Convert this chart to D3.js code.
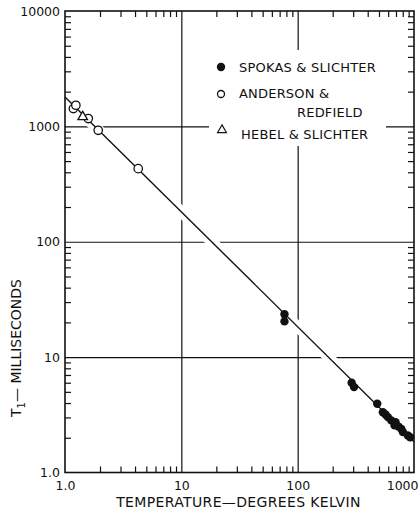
<!DOCTYPE html>
<html>
<head>
<meta charset="utf-8">
<script src="https://cdn.jsdelivr.net/npm/d3@7"></script>
<style>
  body { margin: 0; background: #fff; }
  svg text { font-family: "DejaVu Sans", sans-serif; fill: #111; }
</style>
</head>
<body>
<div id="chart"></div>
<script>
// temperature (K) and T1 (ms)
const spokasT  = [77, 77, 291, 305, 483, 540, 569, 596, 637, 680, 694, 736, 777, 802, 885, 927];
const spokasT1 = [23.5, 20.4, 6.0, 5.5, 3.94, 3.33, 3.18, 3.02, 2.83, 2.56, 2.73, 2.5, 2.39, 2.24, 2.09, 2.02];
const andersonT  = [1.18, 1.24, 1.585, 1.93, 4.26];
const andersonT1 = [1427, 1524, 1169, 925, 430];
const hebelT  = [1.42];
const hebelT1 = [1207];
const fitT  = [1, 1000];
const fitT1 = [1800, 1.85];

const xTicks = [1, 10, 100, 1000];
const xTickLabels = ["1.0", "10", "100", "1000"];
const yTicks = [1, 10, 100, 1000, 10000];
const yTickLabels = ["1.0", "10", "100", "1000", "10000"];
const legendLabels = [["SPOKAS & SLICHTER"], ["ANDERSON &", "REDFIELD"], ["HEBEL & SLICHTER"]];

const W = 419, H = 513;
const margin = { top: 11, right: 5, bottom: 40.5, left: 65 };
const width = W - margin.left - margin.right;
const height = H - margin.top - margin.bottom;

const svg = d3.select("#chart").append("svg")
    .attr("width", W).attr("height", H);
const g = svg.append("g")
    .attr("transform", `translate(${margin.left},${margin.top})`);

const x = d3.scaleLog().domain([1, 1000]).range([0, width]);
const y = d3.scaleLog().domain([1, 10000]).range([height, 0]);

// minor ticks 2..9 in each decade
const minorOf = ext => {
    const out = [];
    for (let d = ext[0]; d < ext[1]; d *= 10)
        for (let k = 2; k <= 9; k++) out.push(d * k);
    return out;
};
const xMinor = minorOf(x.domain());
const yMinor = minorOf(y.domain());

// grid at decades
g.append("g").attr("class", "gridX")
    .attr("transform", `translate(0,${height})`)
    .call(d3.axisBottom(x).tickValues(xTicks.slice(1, -1)).tickSize(-height).tickFormat(""))
    .call(s => s.select(".domain").remove());
g.append("g").attr("class", "gridY")
    .call(d3.axisLeft(y).tickValues(yTicks.slice(1, -1)).tickSize(-width).tickFormat(""))
    .call(s => s.select(".domain").remove());
g.selectAll(".gridX line, .gridY line").attr("stroke", "#333").attr("stroke-width", 1);

// minor inside ticks on all four sides
const tk = 6;
g.append("g").attr("transform", `translate(0,${height})`)
    .call(d3.axisBottom(x).tickValues(xMinor).tickSize(-tk).tickFormat(""));
g.append("g")
    .call(d3.axisTop(x).tickValues(xMinor).tickSize(-tk).tickFormat(""));
g.append("g")
    .call(d3.axisLeft(y).tickValues(yMinor).tickSize(-tk).tickFormat(""));
g.append("g").attr("transform", `translate(${width},0)`)
    .call(d3.axisRight(y).tickValues(yMinor).tickSize(-tk).tickFormat(""));
g.selectAll(".domain").remove();
g.selectAll(".tick line").attr("stroke", "#111").attr("stroke-width", 1.2);

// tick labels
const xLab = g.append("g").attr("transform", `translate(0,${height})`)
    .call(d3.axisBottom(x).tickValues(xTicks).tickSize(0).tickPadding(9)
        .tickFormat((d, i) => xTickLabels[i]))
    .call(s => s.select(".domain").remove());
xLab.selectAll("text").style("font-size", "12.5px").attr("fill", "#111");
// last label sits at the page edge: keep it inside
xLab.selectAll("text").filter(d => d === 1000)
    .attr("text-anchor", "end").attr("x", W - margin.left - width - 1);
g.append("g")
    .call(d3.axisLeft(y).tickValues(yTicks).tickSize(0).tickPadding(5)
        .tickFormat((d, i) => yTickLabels[i]))
    .call(s => s.select(".domain").remove())
    .selectAll("text").style("font-size", "12.5px").attr("fill", "#111");

// legend backdrop hides the grid behind it
g.append("rect")
    .attr("x", 209 - margin.left).attr("y", 50 - margin.top)
    .attr("width", 177).attr("height", 96)
    .attr("fill", "#fff");

// fitted line with a white halo that breaks the grid
const line = d3.line().x(d => x(d[0])).y(d => y(d[1]));
const fit = d3.zip(fitT, fitT1);
g.append("path").datum(fit).attr("d", line)
    .attr("fill", "none").attr("stroke", "#fff").attr("stroke-width", 11);
g.append("path").datum(fit).attr("d", line)
    .attr("fill", "none").attr("stroke", "#111").attr("stroke-width", 1.4);

// frame
g.append("rect").attr("width", width).attr("height", height)
    .attr("fill", "none").attr("stroke", "#111").attr("stroke-width", 1.6);

// markers
const r = 4.2;
g.selectAll(".spokas").data(d3.zip(spokasT, spokasT1)).join("circle")
    .attr("class", "spokas")
    .attr("cx", d => x(d[0])).attr("cy", d => y(d[1])).attr("r", r)
    .attr("fill", "#111");
g.selectAll(".anderson").data(d3.zip(andersonT, andersonT1)).join("circle")
    .attr("class", "anderson")
    .attr("cx", d => x(d[0])).attr("cy", d => y(d[1])).attr("r", r)
    .attr("fill", "#fff").attr("stroke", "#111").attr("stroke-width", 1.3);
const tri = d3.symbol().type(d3.symbolTriangle).size(40);
g.selectAll(".hebel").data(d3.zip(hebelT, hebelT1)).join("path")
    .attr("class", "hebel")
    .attr("d", tri)
    .attr("transform", d => `translate(${x(d[0])},${y(d[1])})`)
    .attr("fill", "#fff").attr("stroke", "#111").attr("stroke-width", 1.3);

// legend
const leg = svg.append("g").attr("transform", "translate(221,0)");
const legY = [67, 94, 130];
const textY = [72, 98, 139];
leg.append("circle").attr("cx", 0).attr("cy", legY[0]).attr("r", 4.2).attr("fill", "#111");
leg.append("circle").attr("cx", 0).attr("cy", legY[1]).attr("r", 3.5)
    .attr("fill", "#fff").attr("stroke", "#111").attr("stroke-width", 1.3);
leg.append("path").attr("d", d3.symbol().type(d3.symbolTriangle).size(34))
    .attr("transform", `translate(1,${legY[2]})`)
    .attr("fill", "#fff").attr("stroke", "#111").attr("stroke-width", 1.2);
legendLabels.forEach((lines, i) => {
    lines.forEach((t, j) => {
        leg.append("text")
            .attr("x", j === 0 ? (i === 2 ? 20 : 18) : 76)
            .attr("y", textY[i] + j * 19)
            .style("font-size", "13px")
            .style("letter-spacing", "0.2px")
            .text(t);
    });
});

// axis titles
svg.append("text")
    .attr("x", margin.left + width / 2 - 1).attr("y", 507)
    .attr("text-anchor", "middle")
    .style("font-size", "14px")
    .style("letter-spacing", "0.35px")
    .text("TEMPERATURE\u2014DEGREES KELVIN");

const yt = svg.append("text")
    .attr("transform", "translate(21,348) rotate(-90)")
    .attr("text-anchor", "middle")
    .style("font-size", "14px");
yt.append("tspan").text("T");
yt.append("tspan").attr("dy", 4).style("font-size", "10px").text("1");
yt.append("tspan").attr("dy", -4).text("\u2014 MILLISECONDS");
</script>
</body>
</html>
